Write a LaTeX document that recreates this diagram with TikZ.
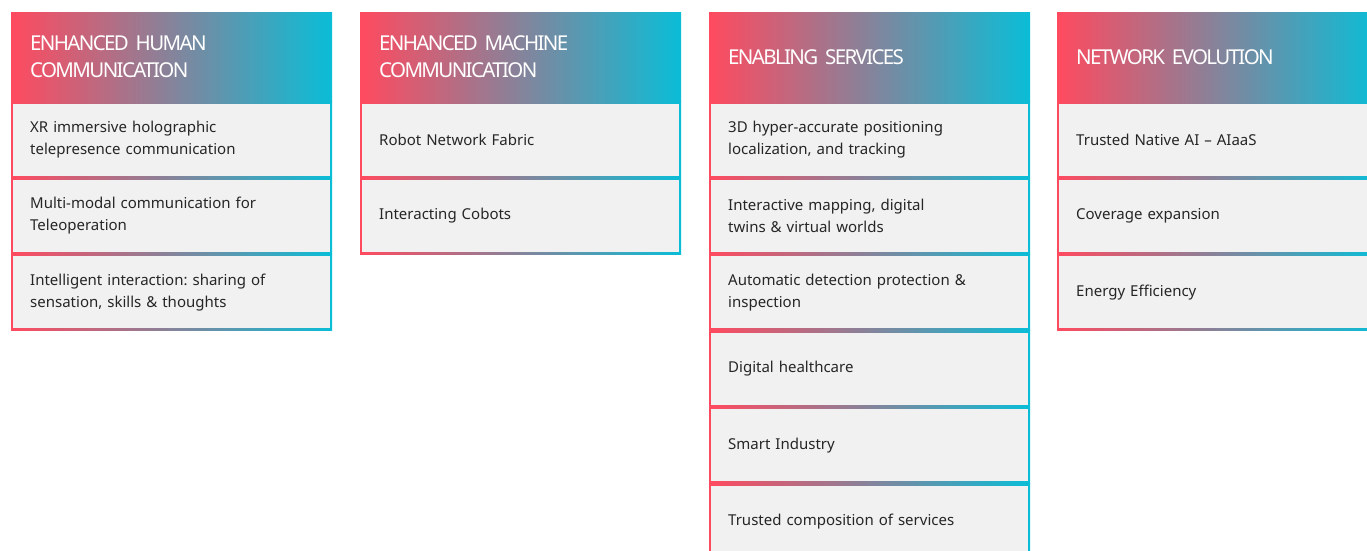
\documentclass[tikz,border=0pt]{standalone}
\usepackage{fontspec}
\setmainfont{Noto Sans}
\newfontfamily\headfont[LetterSpace=-8]{Noto Sans}
\usetikzlibrary{positioning}
\definecolor{sixgred}{HTML}{FF4A5F}
\definecolor{sixgcyan}{HTML}{0ABDD7}
\definecolor{cellgray}{HTML}{F1F1F1}
\definecolor{celltext}{HTML}{262626}
\frenchspacing
\newcommand{\headtext}{\headfont\fontsize{20.5}{27}\selectfont\spaceskip=3.5pt plus 1pt\relax}

\begin{document}
\begin{tikzpicture}[x=1pt, y=-1pt,
    node distance=0pt,
    headnode/.style={rectangle, anchor=north west, left color=sixgred, right color=sixgcyan, minimum width=321pt, minimum height=89pt, text width=283pt, inner xsep=19pt, align=left, text=white, font=\headtext},
    cellnode/.style={rectangle, left color=sixgred, right color=sixgcyan, minimum width=321pt, minimum height=76pt, text width=283pt, inner xsep=19pt, align=left, text=celltext, font=\fontsize{15}{22}\selectfont,
        path picture={\fill[cellgray] ([shift={(2pt,-2pt)}]path picture bounding box.north west) rectangle ([shift={(-2pt,2pt)}]path picture bounding box.south east);}},
    ]
    \useasboundingbox (0,0) rectangle (1367,551);
    %Headers
    \node[headnode]      (headhuman)      at (11,12)   {ENHANCED HUMAN\\COMMUNICATION};
    \node[headnode]      (headmachine)    at (360,12)  {ENHANCED MACHINE\\COMMUNICATION};
    \node[headnode]      (headservices)   at (709,12)  {ENABLING SERVICES};
    \node[headnode]      (headnetwork)    at (1057,12) {NETWORK EVOLUTION};

    %Human communication
    \node[cellnode]      (human1)    [below=of headhuman] {XR immersive holographic\\telepresence communication};
    \node[cellnode]      (human2)    [below=of human1]    {Multi-modal communication for\\Teleoperation};
    \node[cellnode]      (human3)    [below=of human2]    {Intelligent interaction: sharing of\\sensation, skills \& thoughts};

    %Machine communication
    \node[cellnode]      (machine1)  [below=of headmachine] {Robot Network Fabric};
    \node[cellnode]      (machine2)  [below=of machine1]    {Interacting Cobots};

    %Enabling services
    \node[cellnode]      (services1) [below=of headservices] {3D hyper-accurate positioning\\localization, and tracking};
    \node[cellnode]      (services2) [below=of services1]    {Interactive mapping, digital\\twins \& virtual worlds};
    \node[cellnode]      (services3) [below=of services2]    {Automatic detection protection \&\\inspection};
    \node[cellnode]      (services4) [below=of services3]    {Digital healthcare};
    \node[cellnode]      (services5) [below=of services4]    {Smart Industry};
    \node[cellnode]      (services6) [below=of services5]    {Trusted composition of services};

    %Network evolution
    \node[cellnode]      (network1)  [below=of headnetwork] {Trusted Native AI – AIaaS};
    \node[cellnode]      (network2)  [below=of network1]    {Coverage expansion};
    \node[cellnode]      (network3)  [below=of network2]    {Energy Efficiency};
\end{tikzpicture}
\end{document}
